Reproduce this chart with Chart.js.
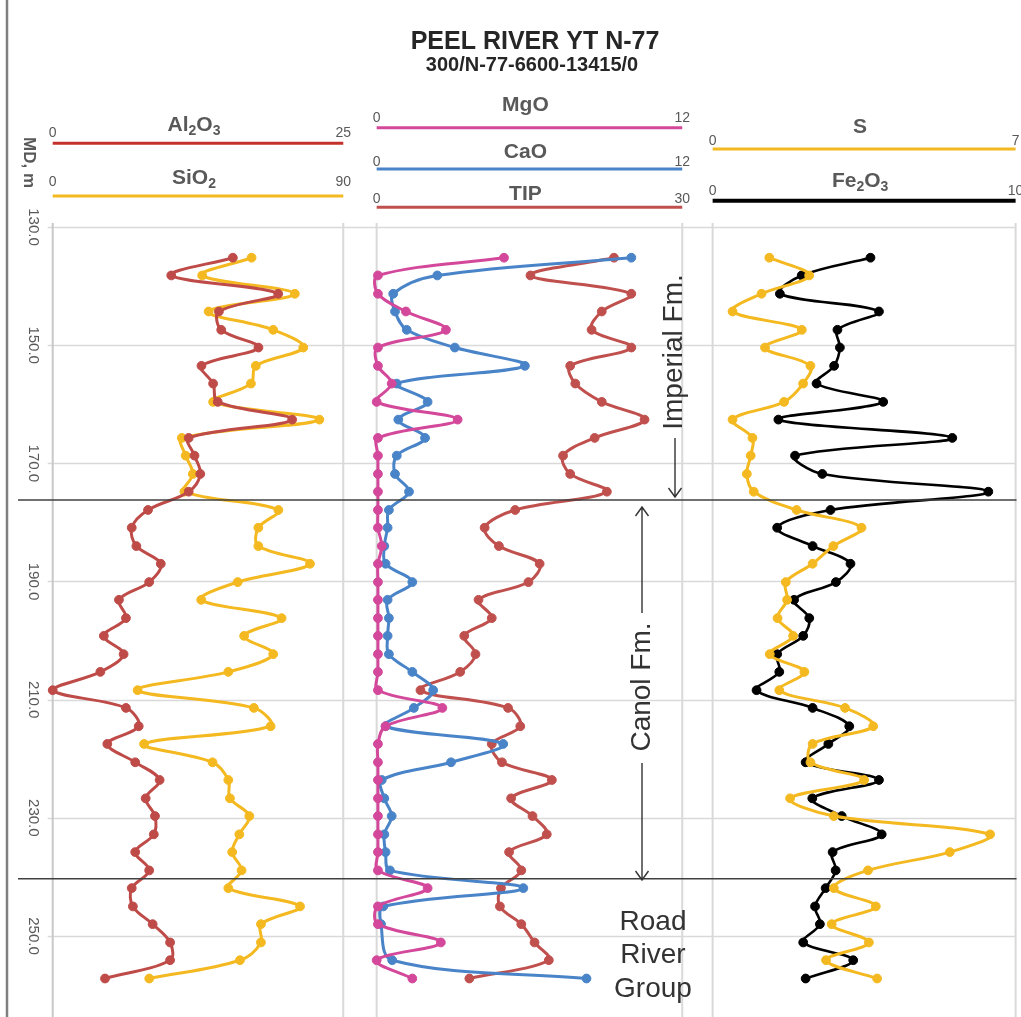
<!DOCTYPE html>
<html>
<head>
<meta charset="utf-8">
<script src="https://cdn.jsdelivr.net/npm/chart.js@4.4.1/dist/chart.umd.min.js"></script>
<style>
html,body{margin:0;padding:0;background:#fff;overflow:hidden}
#wrap{position:relative;width:1021px;height:1017px}
canvas{display:block}
</style>
</head>
<body>
<div id="wrap"><canvas id="c" width="1021" height="1017"></canvas></div>
<script>
// ---------------- DATA ----------------
const depths = [135.2,138.2,141.3,144.3,147.4,150.4,153.5,156.5,159.6,162.6,165.7,168.7,171.8,174.8,
  177.9,180.9,184.0,187.0,190.1,193.1,196.2,199.2,202.3,205.3,208.4,211.4,214.5,217.5,
  220.6,223.6,226.7,229.7,232.8,235.8,238.9,241.9,245.0,248.0,251.1,254.1,257.2];
const yTicks = [130,150,170,190,210,230,250];
const yTickLabels = ["130.0","150.0","170.0","190.0","210.0","230.0","250.0"];
const formationTops = [176.2, 240.3];

const al2o3 = [15.5,10.2,19.4,14.3,14.5,17.7,12.8,13.8,14.2,20.6,11.7,12.2,12.7,11.7,
  8.2,6.8,7.2,9.3,8.3,5.7,6.3,4.4,6.1,4.1,0.0,6.3,7.4,4.7,
  7.1,9.2,8.0,8.8,8.7,7.1,8.3,6.8,6.9,8.6,10.1,10.1,4.5];
const sio2 = [61.6,46.3,75.0,48.3,68.3,77.6,62.9,61.4,49.7,82.6,40.0,41.2,43.4,40.8,
  69.9,63.7,63.7,79.7,57.3,46.0,70.9,59.3,68.3,54.4,26.3,62.3,67.5,28.3,
  49.5,54.4,54.9,60.9,57.8,55.6,58.5,54.4,76.6,64.5,64.5,58.0,29.9];
const mgo = [5.0,0.05,0.05,1.15,2.72,0.05,0.05,0.59,0.0,3.18,0.05,0.05,0.05,0.05,
  0.05,0.05,0.2,0.05,0.05,0.05,0.05,0.05,0.05,0.05,0.05,2.58,0.35,0.05,
  0.05,0.05,0.05,0.05,0.05,0.05,0.05,2.0,0.05,0.05,2.52,0.0,1.40];
const cao = [10.0,2.38,0.65,0.72,1.18,3.07,5.82,0.79,2.0,0.85,1.9,0.79,0.72,1.27,
  0.48,0.43,0.3,0.35,1.4,0.43,0.48,0.43,0.48,1.4,2.22,1.46,0.35,4.97,
  2.92,0.2,0.3,0.59,0.3,0.35,0.52,5.76,0.26,0.17,null,0.61,8.24];
const tip = [23.3,15.1,25.0,22.1,21.1,25.0,19.0,19.5,22.1,26.3,21.4,18.3,19.0,22.6,
  13.6,10.6,12.0,16.0,14.9,10.0,11.3,8.6,9.7,8.2,4.3,12.9,14.1,11.3,
  12.3,17.2,13.2,15.3,16.7,13.0,14.2,12.2,12.1,14.2,15.5,16.9,9.1];
const sulfur = [1.31,2.23,1.13,0.46,2.06,1.21,2.26,2.09,1.65,0.46,0.92,0.88,0.79,0.95,
  1.94,3.44,2.79,2.31,1.69,1.72,1.50,1.86,1.32,2.12,1.54,3.06,3.71,2.31,
  2.26,3.50,1.79,2.80,6.41,5.48,3.59,2.80,3.77,2.75,3.61,2.62,3.80];
const fe2o3 = [5.21,2.94,2.22,5.49,4.12,4.20,4.01,3.43,5.63,2.17,7.91,2.72,3.62,9.10,
  3.89,2.13,3.30,4.55,4.07,2.69,3.19,2.99,2.13,2.20,1.45,3.30,4.51,3.82,
  3.07,5.49,3.29,4.26,5.58,3.96,4.06,3.73,3.38,3.54,2.99,4.64,3.07];
const axisMax = {al2o3:25, sio2:90, mgo:12, cao:12, tip:30, sulfur:7, fe2o3:10};

// ---------------- LAYOUT / STYLE ----------------
const W = 1021, H = 1017;
const AREA = {left:52.7, right:1015.7, top:227, bottom:1017};
const PANELS = [{left:52.7,right:343.3},{left:376.7,right:682.3},{left:712.7,right:1015.7}];
const GRAY = '#595959';

const SERIES = [
  {id:'al2o3', data:al2o3, panel:0, color:'#BE4B48', hColor:'#C4302B', hW:3, parts:[['Al'],['2',1],['O'],['3',1]], lineY:143.3, titleB:131, labB:137},
  {id:'sio2', data:sio2, panel:0, color:'#F4B920', hColor:'#F4B920', hW:3, parts:[['SiO'],['2',1]], lineY:196, titleB:184, labB:186},
  {id:'mgo', data:mgo, panel:1, color:'#D3489A', hColor:'#D3489A', hW:3, parts:[['MgO']], lineY:127.7, titleB:111, labB:122},
  {id:'cao', data:cao, panel:1, color:'#4A84C8', hColor:'#4A84C8', hW:3, parts:[['CaO']], lineY:169, titleB:158, labB:165.5},
  {id:'tip', data:tip, panel:1, color:'#C0504D', hColor:'#C0504D', hW:3, parts:[['TIP']], lineY:207.3, titleB:200, labB:203},
  {id:'sulfur', data:sulfur, panel:2, color:'#F4B920', hColor:'#F4B920', hW:3, parts:[['S']], lineY:149, titleB:133, labB:145},
  {id:'fe2o3', data:fe2o3, panel:2, color:'#000000', hColor:'#000000', hW:4, parts:[['Fe'],['2',1],['O'],['3',1]], lineY:200.7, titleB:187, labB:195}
];

function xScaleFor(s) {
  const p = PANELS[s.panel];
  const width = AREA.right - AREA.left;
  const vmax = axisMax[s.id];
  const ppu = (p.right - p.left) / vmax;
  const min = -(p.left - AREA.left) / ppu;
  return {type:'linear', axis:'x', position:'top', display:false, min:min, max:min + width/ppu};
}

const scales = {
  y: {type:'linear', axis:'y', reverse:true, min:130, max:262.8, display:false}
};
SERIES.forEach(s => { scales['x_' + s.id] = xScaleFor(s); });

const datasets = SERIES.map(s => ({
  label: s.id,
  data: s.data.map((v,i) => ({x:v, y:depths[i]})),
  xAxisID: 'x_' + s.id,
  yAxisID: 'y',
  borderColor: s.color,
  backgroundColor: s.color,
  pointBackgroundColor: s.color,
  pointBorderColor: s.color,
  borderWidth: s.id === 'fe2o3' ? 2.6 : 3,
  pointRadius: 4.4,
  pointBorderWidth: 1,
  tension: 0.35,
  spanGaps: true,
  clip: false,
  fill: false
}));

function drawRich(ctx, parts, cx, base, size, color) {
  const mainF = 'bold ' + size + 'px "Liberation Sans", Arial, sans-serif';
  const subF = 'bold ' + Math.round(size*0.66) + 'px "Liberation Sans", Arial, sans-serif';
  let total = 0;
  parts.forEach(p => { ctx.font = p[1] ? subF : mainF; total += ctx.measureText(p[0]).width; });
  let x = cx - total/2;
  ctx.fillStyle = color;
  ctx.textAlign = 'left';
  ctx.textBaseline = 'alphabetic';
  parts.forEach(p => {
    ctx.font = p[1] ? subF : mainF;
    ctx.fillText(p[0], x, base + (p[1] ? size*0.18 : 0));
    x += ctx.measureText(p[0]).width;
  });
}

function arrow(ctx, x, y1, y2) {
  const dir = y2 > y1 ? 1 : -1;
  ctx.beginPath();
  ctx.moveTo(x, y1); ctx.lineTo(x, y2);
  ctx.moveTo(x - 6.5, y2 - dir*9); ctx.lineTo(x, y2); ctx.lineTo(x + 6.5, y2 - dir*9);
  ctx.stroke();
}

const decor = {
  id: 'decor',
  beforeDatasetsDraw(chart) {
    const ctx = chart.ctx, ca = chart.chartArea, ys = chart.scales.y;
    ctx.save();
    ctx.strokeStyle = '#D9D9D9'; ctx.lineWidth = 1.5;
    yTicks.forEach(v => {
      const y = Math.round(ys.getPixelForValue(v)) + 0.5;
      ctx.beginPath(); ctx.moveTo(ca.left - 5, y); ctx.lineTo(ca.right, y); ctx.stroke();
    });
    [0,1,2].forEach(pi => {
      const s = SERIES.find(q => q.panel === pi);
      const xs = chart.scales['x_' + s.id];
      [0, axisMax[s.id]].forEach((v, k) => {
        const x = xs.getPixelForValue(v);
        ctx.strokeStyle = (pi === 0 && k === 0) ? '#C8C8C8' : '#D9D9D9';
        ctx.lineWidth = 2;
        ctx.beginPath(); ctx.moveTo(x, ca.top - 4); ctx.lineTo(x, H); ctx.stroke();
      });
    });
    ctx.restore();
  },
  afterDraw(chart) {
    const ctx = chart.ctx, ys = chart.scales.y;
    ctx.save();
    ctx.strokeStyle = '#404040'; ctx.lineWidth = 1.5;
    formationTops.forEach(d => {
      const y = ys.getPixelForValue(d);
      ctx.beginPath(); ctx.moveTo(18, y); ctx.lineTo(1016.5, y); ctx.stroke();
    });
    ctx.strokeStyle = '#7F7F7F'; ctx.lineWidth = 2.5;
    ctx.beginPath(); ctx.moveTo(7, 0); ctx.lineTo(7, H); ctx.stroke();

    // title
    ctx.fillStyle = '#262626';
    ctx.textAlign = 'center'; ctx.textBaseline = 'alphabetic';
    ctx.font = 'bold 25px "Liberation Sans", Arial, sans-serif';
    ctx.fillText('PEEL RIVER YT N-77', 535, 49);
    ctx.font = 'bold 20px "Liberation Sans", Arial, sans-serif';
    ctx.fillText('300/N-77-6600-13415/0', 532, 71);

    // headers
    SERIES.forEach(s => {
      const xs = chart.scales['x_' + s.id];
      const x0 = xs.getPixelForValue(0), x1 = xs.getPixelForValue(axisMax[s.id]);
      ctx.strokeStyle = s.hColor; ctx.lineWidth = s.hW;
      ctx.beginPath(); ctx.moveTo(x0, s.lineY); ctx.lineTo(x1, s.lineY); ctx.stroke();
      ctx.fillStyle = GRAY; ctx.textAlign = 'center'; ctx.textBaseline = 'alphabetic';
      ctx.font = '14px "Liberation Sans", Arial, sans-serif';
      ctx.fillText('0', x0, s.labB);
      ctx.fillText(String(axisMax[s.id]), x1, s.labB);
      drawRich(ctx, s.parts, (x0 + x1)/2 - 4, s.titleB, 21, GRAY);
    });

    // y labels
    ctx.fillStyle = GRAY;
    ctx.font = '15px "Liberation Sans", Arial, sans-serif';
    yTicks.forEach((v, i) => {
      ctx.save();
      ctx.translate(33, ys.getPixelForValue(v));
      ctx.rotate(Math.PI/2);
      ctx.textAlign = 'center'; ctx.textBaseline = 'middle';
      ctx.fillText(yTickLabels[i], 0, 0);
      ctx.restore();
    });
    ctx.save();
    ctx.translate(29, 162.5); ctx.rotate(Math.PI/2);
    ctx.font = 'bold 17px "Liberation Sans", Arial, sans-serif';
    ctx.textAlign = 'center'; ctx.textBaseline = 'middle';
    ctx.fillText('MD, m', 0, 0);
    ctx.restore();

    // formation annotations
    ctx.fillStyle = '#333333'; ctx.strokeStyle = '#333333'; ctx.lineWidth = 1.4;
    ctx.font = '28px "Liberation Sans", Arial, sans-serif';
    ctx.textAlign = 'center'; ctx.textBaseline = 'middle';
    ctx.save(); ctx.translate(674, 352); ctx.rotate(-Math.PI/2); ctx.fillText('Imperial Fm.', 0, 0); ctx.restore();
    arrow(ctx, 675, 438, 497);
    ctx.save(); ctx.translate(642, 687); ctx.rotate(-Math.PI/2); ctx.fillText('Canol Fm.', 0, 0); ctx.restore();
    arrow(ctx, 642, 613, 507);
    arrow(ctx, 642, 763, 880);
    ctx.textBaseline = 'alphabetic';
    ctx.fillText('Road', 653, 930);
    ctx.fillText('River', 653, 963);
    ctx.fillText('Group', 653, 997);
    ctx.restore();
  }
};

new Chart(document.getElementById('c'), {
  type: 'line',
  data: { datasets: datasets },
  options: {
    indexAxis: 'y',
    responsive: false,
    animation: false,
    devicePixelRatio: 1,
    layout: { padding: { left: AREA.left, right: W - AREA.right, top: AREA.top, bottom: H - AREA.bottom } },
    scales: scales,
    plugins: { legend: { display: false }, tooltip: { enabled: false }, title: { display: false } }
  },
  plugins: [decor]
});
</script>
</body>
</html>
